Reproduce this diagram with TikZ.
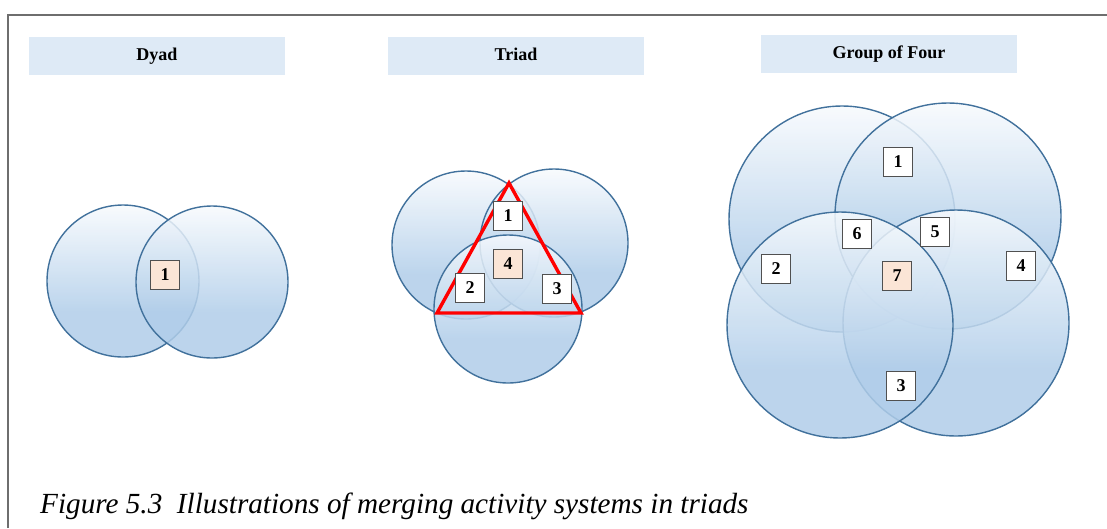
\documentclass[tikz,border=0pt]{standalone}
\usepackage{fontspec}
\setmainfont{Liberation Serif}
\definecolor{vennline}{HTML}{41719C}
\definecolor{venntop}{HTML}{F7FAFD}
\definecolor{vennbot}{HTML}{B0CDE9}
\pgfdeclareverticalshading{vennshade}{100bp}{%
  color(0bp)=(vennbot); color(25bp)=(vennbot); color(40bp)=(vennbot);
  color(75bp)=(venntop); color(100bp)=(venntop)}
\begin{document}
\begin{tikzpicture}[x=1pt,y=-1pt,
  venn/.style={circle, draw=vennline, line width=1.4pt, minimum size=#1,
    inner sep=0pt, shading=vennshade, fill opacity=0.85, draw opacity=1},
  head/.style={fill=headfill, minimum width=256pt, minimum height=38pt,
    inner sep=0pt, text height=12pt, text depth=4pt,
    font=\fontsize{18}{20}\selectfont\bfseries},
  numbox/.style={draw=boxline, line width=0.9pt, fill=white, minimum size=29pt,
    inner sep=0pt, font=\fontsize{18}{20}\selectfont\bfseries},
  hubbox/.style={numbox, fill=hubfill},
  tri/.style={draw=red, line width=3.4pt, line join=miter}
]
\definecolor{headfill}{HTML}{DEEAF6}
\definecolor{boxline}{HTML}{505050}
\definecolor{hubfill}{HTML}{FBE5D6}
\definecolor{framecol}{HTML}{6E6E6E}

\useasboundingbox (0,0) rectangle (1107,528);

% outer frame
\coordinate (fbl) at (8,528);
\coordinate (ftl) at (8,15);
\coordinate (ftr) at (1107,15);
\draw[framecol, line width=1.6pt] (fbl) -- (ftl) -- (ftr);

% column headings
\node[head] (hdyad)  at (157,56) {Dyad};
\node[head] (htriad) at (516,56) {Triad};
\node[head] (hfour)  at (889,54) {Group of Four};

% dyad
\node[venn=152pt] (da) at (123,281) {};
\node[venn=152pt] (db) at (212,282) {};
\node[hubbox] (d1) at (165,275) {1};

% triad
\node[venn=148pt] (ta) at (466,245) {};
\node[venn=148pt] (tb) at (554,243) {};
\node[venn=148pt] (tc) at (508,309) {};
\coordinate (tapex) at (509,183);
\coordinate (tleft) at (437,313);
\coordinate (tright) at (581,313);
\draw[tri] (tapex) -- (tleft) -- (tright) -- cycle;
\node[numbox] (t1) at (508,216) {1};
\node[hubbox] (t4) at (508,264) {4};
\node[numbox] (t2) at (470,288) {2};
\node[numbox] (t3) at (557,289) {3};

% group of four
\node[venn=226pt] (ga) at (842,219) {};
\node[venn=226pt] (gb) at (948,216) {};
\node[venn=226pt] (gd) at (956,323) {};
\node[venn=226pt] (gc) at (840,325) {};
\node[numbox] (g1) at (898,162) {1};
\node[numbox] (g6) at (857,234) {6};
\node[numbox] (g5) at (935,232) {5};
\node[numbox] (g2) at (776,269) {2};
\node[hubbox] (g7) at (897,276) {7};
\node[numbox] (g4) at (1021,266) {4};
\node[numbox] (g3) at (901,386) {3};

% caption
\node[anchor=base west, inner sep=0pt, font=\fontsize{29.2}{32}\selectfont\itshape]
  (cap) at (40,513) {Figure 5.3\ \ Illustrations of merging activity systems in triads};
\end{tikzpicture}
\end{document}
